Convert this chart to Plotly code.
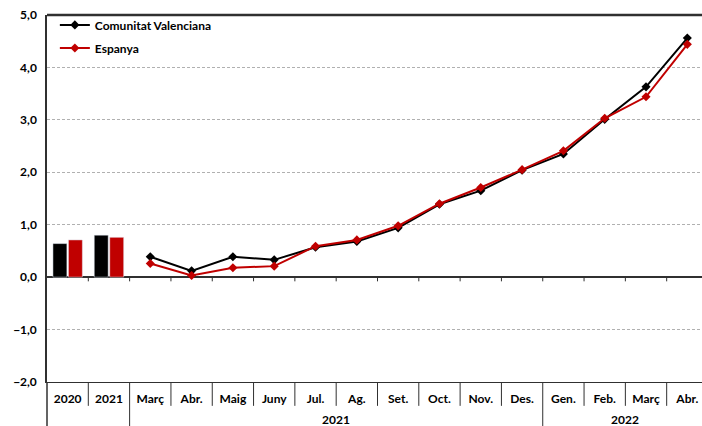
import plotly.graph_objects as go

# categories (bottom table)
categories = ["2020", "2021", "Març", "Abr.", "Maig", "Juny", "Jul.", "Ag.", "Set.",
              "Oct.", "Nov.", "Des.", "Gen.", "Feb.", "Març", "Abr."]
year_groups = ["2021", "2022"]

# annual values (bars)
annual_cv = [0.64, 0.80]
annual_es = [0.71, 0.76]

# monthly values (lines), Març 2021 .. Abr. 2022
monthly_cv = [0.39, 0.12, 0.39, 0.33, 0.57, 0.68, 0.94, 1.39, 1.65, 2.04, 2.35, 3.01, 3.63, 4.56]
monthly_es = [0.26, 0.03, 0.18, 0.21, 0.59, 0.71, 0.98, 1.40, 1.71, 2.05, 2.41, 3.03, 3.44, 4.44]

black = "#000000"
red = "#C00000"
font = "Lato"

xpos = list(range(len(categories)))
bar_x = xpos[:2]
line_x = xpos[2:]

fig = go.Figure()
fig.add_trace(go.Bar(x=bar_x, y=annual_cv, marker_color=black, showlegend=False))
fig.add_trace(go.Bar(x=bar_x, y=annual_es, marker_color=red, showlegend=False))
fig.add_trace(go.Scatter(x=line_x, y=monthly_cv, mode="lines+markers", name="Comunitat Valenciana",
                         line=dict(color=black, width=2), marker=dict(symbol="diamond", size=7, color=black),
                         legend="legend", cliponaxis=False))
fig.add_trace(go.Scatter(x=line_x, y=monthly_es, mode="lines+markers", name="Espanya",
                         line=dict(color=red, width=2), marker=dict(symbol="diamond", size=7, color=red),
                         legend="legend2", cliponaxis=False))

shapes = []
# top border
shapes.append(dict(type="line", xref="paper", yref="paper", x0=0, x1=1, y0=1, y1=1,
                   line=dict(color="#303030", width=2.5), layer="above"))
# small ticks on zero line
for i in range(1, len(categories)):
    shapes.append(dict(type="line", xref="x", yref="y", x0=i - 0.5, x1=i - 0.5, y0=0, y1=-0.08,
                       line=dict(color="#303030", width=1)))
# table separators
long_seps = [1.5, 11.5]
for i in range(1, len(categories)):
    b = i - 0.5
    y1 = -0.13 if b in long_seps else -0.065
    shapes.append(dict(type="line", xref="x", yref="paper", x0=b, x1=b, y0=0, y1=y1,
                       line=dict(color="#303030", width=1)))
shapes.append(dict(type="line", xref="paper", yref="paper", x0=0, x1=0, y0=0, y1=-0.13,
                   line=dict(color="#303030", width=1.5)))

annotations = [
    dict(x=6.5, y=-0.1035, xref="x", yref="paper", yanchor="middle", text="<b>" + year_groups[0] + "</b>",
         showarrow=False, font=dict(family=font, size=12, color=black)),
    dict(x=13.5, y=-0.1035, xref="x", yref="paper", yanchor="middle", text="<b>" + year_groups[1] + "</b>",
         showarrow=False, font=dict(family=font, size=12, color=black)),
]

fig.update_layout(
    width=702, height=426,
    margin=dict(l=47, r=0, t=15, b=44, autoexpand=False),
    plot_bgcolor="white", paper_bgcolor="white",
    separators=",.",
    barmode="group", bargap=0.25, bargroupgap=0.1,
    shapes=shapes, annotations=annotations,
    font=dict(family=font, size=12, color=black),
    legend=dict(x=0.012, y=0.973, xanchor="left", yanchor="middle", bgcolor="rgba(0,0,0,0)",
                font=dict(family=font, size=12, color=black, weight="bold")),
    legend2=dict(x=0.012, y=0.910, xanchor="left", yanchor="middle", bgcolor="rgba(0,0,0,0)",
                 font=dict(family=font, size=12, color=black, weight="bold")),
)
# last column runs past the right edge in the original
fig.update_xaxes(
    range=[-0.5, 15.355], tickvals=xpos, ticktext=["<b>" + c + "</b>" for c in categories],
    showgrid=False, zeroline=False, showline=True, linecolor="#303030", linewidth=1,
    ticks="", ticklabelstandoff=6, automargin=False,
    tickfont=dict(family=font, size=12, color=black),
)
fig.update_yaxes(
    range=[-2, 5], dtick=1, tickformat=".1f",
    showgrid=True, gridcolor="#B0B0B0", griddash="3px,2px", gridwidth=1,
    zeroline=True, zerolinecolor="#303030", zerolinewidth=1.5,
    showline=True, linecolor="#303030", linewidth=1.5,
    ticks="", ticklabelstandoff=6, automargin=False,
    tickfont=dict(family=font, size=12, color=black, weight="bold"),
)

# drop the default 8px body margin so the figure fills the window
fig.write_html("out.html", config={"displayModeBar": False},
               post_script="document.body.style.margin='0px';")
